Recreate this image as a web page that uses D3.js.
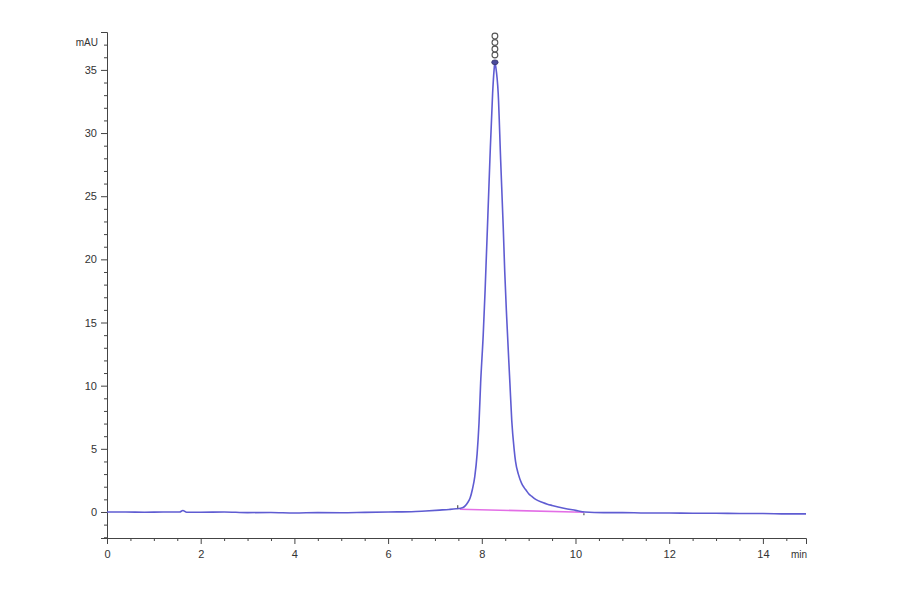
<!DOCTYPE html>
<html>
<head>
<meta charset="utf-8">
<script src="https://cdn.jsdelivr.net/npm/d3@7"></script>
<style>
    body { margin: 0; background: #fff; }
    text { font-family: "Liberation Sans", Arial, sans-serif; }
</style>
</head>
<body>
<svg id="chart" width="900" height="594"></svg>
<script>

// chromatogram trace (min / mAU)
var timeMin = [0, 0.4, 0.8, 1.2, 1.55, 1.62, 1.7, 2.0, 2.5, 3.0, 3.5, 4.0, 4.5, 5.0, 5.5, 6.0, 6.5, 6.8,
    7.1, 7.3, 7.45, 7.55, 7.6, 7.65, 7.7, 7.75, 7.8, 7.85, 7.9, 7.94, 7.975, 8.03, 8.07, 8.10, 8.13, 8.173, 8.231,
    8.26, 8.28, 8.30, 8.35, 8.402, 8.457, 8.49, 8.53, 8.60, 8.64, 8.692, 8.72, 8.78, 8.85, 8.9, 8.95, 9.0,
    9.063, 9.15, 9.3, 9.4, 9.5, 9.75, 10.0, 10.2, 10.6, 11.0, 11.5, 12.0, 12.5, 13.0, 13.5, 14.0, 14.5, 14.92];
var signalMau = [0, 0, -0.02, 0, 0, 0.12, -0.02, -0.02, 0, -0.05, -0.04, -0.08, -0.05, -0.06, -0.03, 0, 0.02, 0.08,
    0.15, 0.2, 0.25, 0.3, 0.35, 0.5, 0.75, 1.1, 1.8, 2.8, 4.6, 7.0, 10.2, 14.0, 17.5, 20.5, 23.5, 27.9, 33.15,
    34.9, 35.6, 35.2, 33.15, 27.9, 22.6, 19.0, 15.5, 10.2, 7.2, 4.9, 4.0, 3.0, 2.27, 1.95, 1.7, 1.45,
    1.25, 1.0, 0.75, 0.62, 0.52, 0.3, 0.13, 0, -0.05, -0.05, -0.08, -0.08, -0.1, -0.1, -0.12, -0.12, -0.15, -0.15];

// integration baseline of the peak
var baselineTime = [7.53, 10.18];
var baselineMau = [0.22, -0.02];

// off-scale markers stacked above the apex
var markerTime = 8.28;
var markerMau = [37.68, 37.17, 36.65, 36.18];
var apexMau = 35.6;

var xMajorTicks = [0, 2, 4, 6, 8, 10, 12, 14];
var yMajorTicks = [0, 5, 10, 15, 20, 25, 30, 35];
var xLabel = "min";
var yLabel = "mAU";

var svg = d3.select("#chart");

var x = d3.scaleLinear().domain([0, 14.92]).range([107, 806]);
var y = d3.scaleLinear().domain([-2.06, 38]).range([538, 32]);

var axisColor = "#444";

// minor ticks
var xMinor = d3.range(0, 14.92, 0.5).filter(d => xMajorTicks.indexOf(d) < 0);
var yMinor = d3.range(-2, 38.01, 1).filter(d => yMajorTicks.indexOf(d) < 0);

svg.append("g")
    .attr("transform", "translate(0," + y.range()[0] + ")")
    .call(d3.axisBottom(x).tickValues(xMajorTicks).tickSize(6).tickPadding(6).tickFormat(d3.format("d")));

svg.append("g")
    .attr("transform", "translate(0," + y.range()[0] + ")")
    .call(d3.axisBottom(x).tickValues(xMinor).tickSize(3).tickFormat(""))
    .select(".domain").remove();

svg.append("g")
    .attr("transform", "translate(" + x.range()[0] + ",0)")
    .call(d3.axisLeft(y).tickValues(yMajorTicks).tickSize(6).tickPadding(4).tickFormat(d3.format("d")));

svg.append("g")
    .attr("transform", "translate(" + x.range()[0] + ",0)")
    .call(d3.axisLeft(y).tickValues(yMinor).tickSize(3).tickFormat(""))
    .select(".domain").remove();

svg.selectAll(".domain, .tick line").attr("stroke", axisColor);
svg.selectAll(".tick text").attr("fill", "#333").style("font-size", "11px");

// axis unit labels
svg.append("text")
    .attr("x", 98)
    .attr("y", 46)
    .attr("text-anchor", "end")
    .attr("fill", "#333")
    .style("font-size", "10px")
    .text(yLabel);

svg.append("text")
    .attr("x", 791)
    .attr("y", 558)
    .attr("fill", "#333")
    .style("font-size", "10px")
    .text(xLabel);

// baseline (pink)
svg.append("path")
    .datum(d3.zip(baselineTime, baselineMau))
    .attr("fill", "none")
    .attr("stroke", "#e36ee6")
    .attr("stroke-width", 1.6)
    .attr("d", d3.line().x(d => x(d[0])).y(d => y(d[1])));

// trace
svg.append("path")
    .datum(d3.zip(timeMin, signalMau))
    .attr("fill", "none")
    .attr("stroke", "#5f5cd2")
    .attr("stroke-width", 1.6)
    .attr("d", d3.line().curve(d3.curveMonotoneX).x(d => x(d[0])).y(d => y(d[1])));

// peak start / end marks
svg.append("line")
    .attr("x1", x(baselineTime[0]) - 2).attr("x2", x(baselineTime[0]) - 2)
    .attr("y1", y(baselineMau[0]) - 4).attr("y2", y(baselineMau[0]) - 1)
    .attr("stroke", "#333").attr("stroke-width", 1);
svg.append("line")
    .attr("x1", x(baselineTime[1])).attr("x2", x(baselineTime[1]))
    .attr("y1", y(baselineMau[1]) + 1).attr("y2", y(baselineMau[1]) + 3)
    .attr("stroke", "#333").attr("stroke-width", 1);

// apex blob + off-scale circles
svg.append("ellipse")
    .attr("cx", x(markerTime))
    .attr("cy", y(apexMau))
    .attr("rx", 3.2)
    .attr("ry", 2.4)
    .attr("fill", "#4a4a9a")
    .attr("stroke", "#33336a")
    .attr("stroke-width", 0.8);

svg.selectAll("circle.mark")
    .data(markerMau)
    .enter()
    .append("circle")
    .attr("class", "mark")
    .attr("cx", x(markerTime))
    .attr("cy", d => y(d))
    .attr("r", 2.9)
    .attr("fill", "none")
    .attr("stroke", "#555")
    .attr("stroke-width", 1.1);

</script>
</body>
</html>
